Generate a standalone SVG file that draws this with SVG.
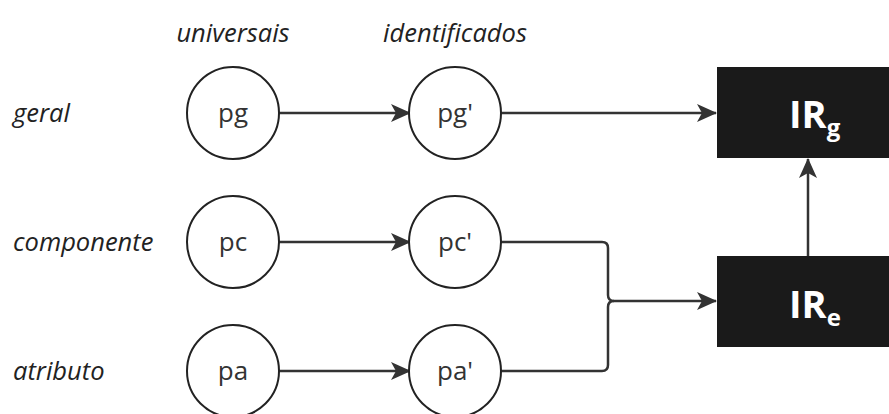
<svg xmlns="http://www.w3.org/2000/svg" width="889" height="414" viewBox="0 0 889 414">
<defs>
<marker id="arr" markerUnits="userSpaceOnUse" markerWidth="22" markerHeight="20" refX="19" refY="9" orient="auto">
<path d="M0,0 L20,9 L0,18 L5,9 z" fill="#333"/>
</marker>
<style>
.lbl{font-family:"Open Sans","Liberation Sans",sans-serif;font-style:italic;font-size:25.5px;fill:#222}
.nd circle{fill:#fff;stroke:#222;stroke-width:2}
.nd text{font-family:"Open Sans","Liberation Sans",sans-serif;font-size:26px;fill:#333;text-anchor:middle}
.box rect{fill:#1a1a1a}
.box text{font-family:"Open Sans","Liberation Sans",sans-serif;font-weight:bold;font-size:38px;fill:#fff}
.box tspan{font-size:24px}
.cn path{fill:none;stroke:#333;stroke-width:2.5}
</style>
</defs>
<rect width="889" height="414" fill="#fff"/>
<g id="labels">
<text class="lbl" x="233" y="42" text-anchor="middle">universais</text>
<text class="lbl" x="455" y="42" text-anchor="middle">identificados</text>
<text class="lbl" x="13" y="122">geral</text>
<text class="lbl" x="13" y="251">componente</text>
<text class="lbl" x="13" y="380">atributo</text>
</g>
<g class="cn" id="connectors">
<path d="M279,113 H410" marker-end="url(#arr)"/>
<path d="M279,242 H410" marker-end="url(#arr)"/>
<path d="M279,371 H410" marker-end="url(#arr)"/>
<path d="M501,113 H716" marker-end="url(#arr)"/>
<path d="M501,242 H602 Q608,242 608,248 V295 Q608,301 614,301 H716" marker-end="url(#arr)"/>
<path d="M501,371 H602 Q608,371 608,365 V307 Q608,301 614,301"/>
<path d="M808,256 V159" marker-end="url(#arr)"/>
</g>
<g class="nd" id="pg"><circle cx="233" cy="113" r="46"/><text x="233" y="122">pg</text></g>
<g class="nd" id="pg2"><circle cx="455" cy="113" r="46"/><text x="455" y="122">pg'</text></g>
<g class="nd" id="pc"><circle cx="233" cy="242" r="46"/><text x="233" y="251">pc</text></g>
<g class="nd" id="pc2"><circle cx="455" cy="242" r="46"/><text x="455" y="251">pc'</text></g>
<g class="nd" id="pa"><circle cx="233" cy="371" r="46"/><text x="233" y="380">pa</text></g>
<g class="nd" id="pa2"><circle cx="455" cy="371" r="46"/><text x="455" y="380">pa'</text></g>
<g class="box" id="IRg"><rect x="717" y="67" width="182" height="91"/><text x="789" y="128">IR<tspan dy="8">g</tspan></text></g>
<g class="box" id="IRe"><rect x="717" y="256" width="182" height="91"/><text x="789" y="318">IR<tspan dy="8">e</tspan></text></g>
</svg>
